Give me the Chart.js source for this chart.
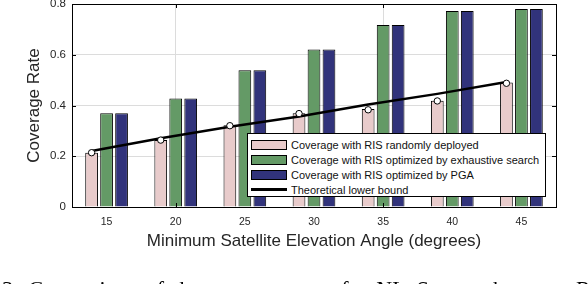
<!DOCTYPE html>
<html>
<head>
<meta charset="utf-8">
<script src="https://cdn.jsdelivr.net/npm/chart.js@4.4.1/dist/chart.umd.min.js"></script>
<style>
  html, body { margin: 0; padding: 0; background: #fff; overflow: hidden; }
  #wrap { position: relative; width: 588px; height: 284px; overflow: hidden; }
  canvas { position: absolute; left: 0; top: 0; display: block; }
  #legend {
    position: absolute; background: #fff; border: 1px solid #000;
    font: 11px "Liberation Sans", Arial, sans-serif; color: #111;
    padding: 3px 0 2px 3px; box-sizing: border-box;
  }
  #legend .row { display: flex; align-items: center; height: 15px; white-space: nowrap; }
  #legend .sw { width: 36px; height: 10px; margin-right: 4px; box-sizing: border-box; flex: none; }
  #legend .ln { width: 36px; height: 3px; background: #000; margin-right: 4px; flex: none; }
  #caption {
    position: absolute; left: 2px; top: 276px; white-space: nowrap; line-height: 1;
    font: 22px "Liberation Serif", "Times New Roman", serif; color: #000; word-spacing: 4px;
  }
</style>
</head>
<body>
<div id="wrap">
  <canvas id="c" width="588" height="284"></canvas>
  <canvas id="c2" width="588" height="284"></canvas>
  <div id="legend"></div>
  <div id="caption">3: Comparison of the coverage rate for NLoS users between RO</div>
</div>
<script>
// x categories (minimum satellite elevation angle, degrees)
const angles = ['15', '20', '25', '30', '35', '40', '45']

// coverage rate
const randomRIS = [0.214, 0.264, 0.322, 0.369, 0.386, 0.419, 0.491]
const exhaustiveRIS = [0.369, 0.428, 0.539, 0.621, 0.717, 0.772, 0.780]
const pgaRIS = [0.369, 0.428, 0.539, 0.621, 0.717, 0.772, 0.780]

// simulated points on the random bars and the theoretical lower bound
const randomMarks = [0.215, 0.265, 0.322, 0.370, 0.385, 0.420, 0.490]
const lowerBound = [0.222, 0.272, 0.318, 0.358, 0.406, 0.448, 0.495]

const yTicks = [0, 0.2, 0.4, 0.6, 0.8]
const gridAt = ['20', '35']

const catPct = 0.65
const barPct = 0.85
// centre of the first (pink) bar of a group, in category units
const pinkShift = -catPct / 3

function onPink(vals) {
  return vals.map((v, i) => ({ x: i + pinkShift, y: v }))
}

const fontFam = '"Liberation Sans", Arial, sans-serif'

// frame around the plot + inner tick marks (MATLAB look)
const boxPlugin = {
  id: 'box',
  afterDatasetsDraw(chart) {
    const { ctx, chartArea: a, scales } = chart
    ctx.save()
    ctx.strokeStyle = '#000'
    ctx.lineWidth = 1
    ctx.beginPath()
    yTicks.forEach(t => {
      const y = Math.round(scales.y.getPixelForValue(t)) + 0.5
      ctx.moveTo(a.left, y); ctx.lineTo(a.left + 4, y)
      ctx.moveTo(a.right, y); ctx.lineTo(a.right - 4, y)
    })
    gridAt.forEach(c => {
      const x = Math.round(scales.x.getPixelForValue(angles.indexOf(c))) + 0.5
      ctx.moveTo(x, a.top); ctx.lineTo(x, a.top + 4)
      ctx.moveTo(x, a.bottom); ctx.lineTo(x, a.bottom - 4)
    })
    ctx.stroke()
    ctx.strokeRect(Math.round(a.left) + 0.5, Math.round(a.top) + 0.5,
      Math.round(a.right - a.left), Math.round(a.bottom - a.top))
    ctx.restore()
  }
}

const barStyle = { borderColor: '#000', borderWidth: 1, categoryPercentage: catPct, barPercentage: barPct }

const chart = new Chart(document.getElementById('c'), {
  type: 'bar',
  data: {
    labels: angles,
    datasets: [
      { label: 'Coverage with RIS randomly deployed', data: randomRIS, backgroundColor: '#e8cbcb', ...barStyle },
      { label: 'Coverage with RIS optimized by exhaustive search', data: exhaustiveRIS, backgroundColor: '#649a66', ...barStyle },
      { label: 'Coverage with RIS optimized by PGA', data: pgaRIS, backgroundColor: '#31337b', ...barStyle }
    ]
  },
  options: {
    responsive: false,
    animation: false,
    events: [],
    layout: { padding: { top: 4, right: 32, left: 20, bottom: 28 } },
    plugins: { legend: { display: false }, tooltip: { enabled: false } },
    scales: {
      x: {
        offset: true,
        grid: {
          offset: false,
          drawTicks: false,
          color: c => (c.tick && gridAt.includes(angles[c.tick.value])) ? '#dcdcdc' : 'rgba(0,0,0,0)'
        },
        border: { display: false },
        ticks: { padding: 9, color: '#262626', font: { family: fontFam, size: 10.5 } },
        title: { display: true, text: 'Minimum Satellite Elevation Angle (degrees)', color: '#262626', padding: { top: 4, bottom: 4 }, font: { family: fontFam, size: 17 } },
        afterFit: s => { s.height = 49 }
      },
      y: {
        min: 0, max: 0.8,
        afterBuildTicks: s => { s.ticks = yTicks.map(v => ({ value: v })) },
        grid: { drawTicks: false, color: c => (c.tick && c.tick.value > 0 && c.tick.value < 0.8) ? '#dcdcdc' : 'rgba(0,0,0,0)' },
        border: { display: false },
        ticks: { padding: 6, color: '#262626', font: { family: fontFam, size: 11.5 } },
        title: { display: true, text: 'Coverage Rate', color: '#262626', padding: 4, font: { family: fontFam, size: 17 } },
        afterFit: s => { s.width = 52; s.paddingTop = 0; s.paddingBottom = 0 }
      }
    }
  },
  plugins: [boxPlugin]
})

// line + circle markers on an overlay chart sharing the same plot area
const a = chart.chartArea
const lineDatasets = [
  {
    label: 'Theoretical lower bound', data: onPink(lowerBound),
    borderColor: '#000', borderWidth: 2.5, pointRadius: 0, order: 1
  },
  {
    label: '', data: onPink(randomMarks), showLine: false,
    pointRadius: 3.2, pointBackgroundColor: '#fff', pointBorderColor: '#000', pointBorderWidth: 1, order: 0
  }
]
new Chart(document.getElementById('c2'), {
  type: 'line',
  data: { datasets: lineDatasets },
  options: {
    responsive: false,
    animation: false,
    events: [],
    layout: { padding: { left: a.left, top: a.top, right: 588 - a.right, bottom: 284 - a.bottom } },
    plugins: { legend: { display: false }, tooltip: { enabled: false } },
    scales: {
      x: { type: 'linear', display: false, min: -0.5, max: angles.length - 0.5 },
      y: { display: false, min: 0, max: 0.8 }
    }
  }
})

// legend box inside the plot, bottom right
const legend = document.getElementById('legend')
const legendItems = chart.data.datasets.concat(lineDatasets.filter(d => d.label))
legendItems.forEach(ds => {
  const row = document.createElement('div')
  row.className = 'row'
  const sw = document.createElement('span')
  if (ds.backgroundColor) {
    sw.className = 'sw'
    sw.style.background = ds.backgroundColor
    sw.style.border = '1px solid #000'
  } else {
    sw.className = 'ln'
  }
  const tx = document.createElement('span')
  tx.textContent = ds.label
  row.appendChild(sw)
  row.appendChild(tx)
  legend.appendChild(row)
})
legend.style.left = (a.left + 175) + 'px'
legend.style.top = (a.top + 129) + 'px'
legend.style.width = '299px'
legend.style.height = '64px'
</script>
</body>
</html>
